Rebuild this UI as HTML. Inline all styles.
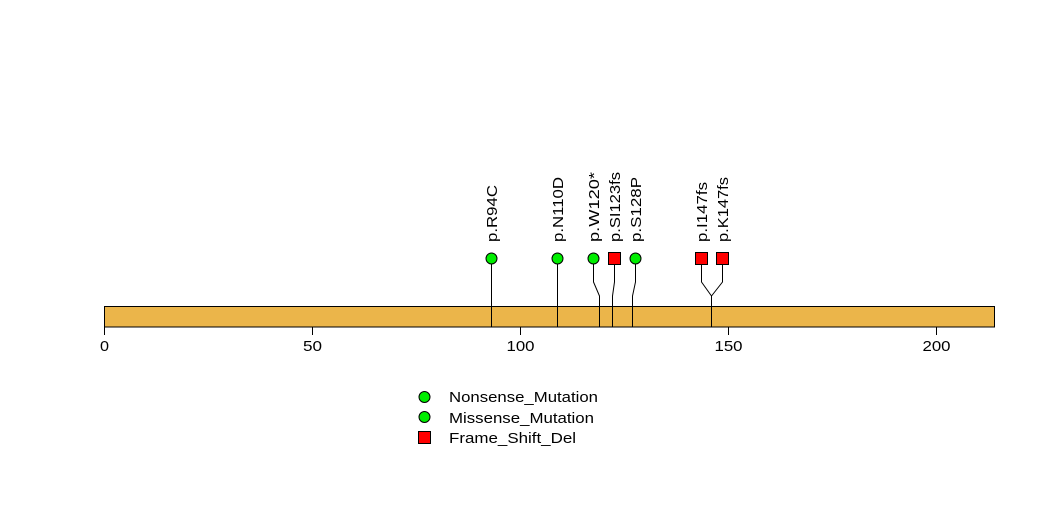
<!DOCTYPE html>
<html><head><meta charset="utf-8"><style>html,body{margin:0;padding:0;background:#fff}svg{display:block}text{font-family:"Liberation Sans",sans-serif;fill:#000}</style></head><body>
<svg width="1047" height="524" viewBox="0 0 1047 524" xmlns="http://www.w3.org/2000/svg">
<rect x="104.5" y="306.5" width="890" height="20.5" fill="#EBB54A" stroke="#000" stroke-width="1"/>
<g stroke="#000" stroke-width="1" fill="none">
<line x1="104.5" y1="327" x2="936.5" y2="327"/>
<line x1="104.5" y1="327" x2="104.5" y2="335"/>
<line x1="312.5" y1="327" x2="312.5" y2="335"/>
<line x1="520.5" y1="327" x2="520.5" y2="335"/>
<line x1="728.5" y1="327" x2="728.5" y2="335"/>
<line x1="936.5" y1="327" x2="936.5" y2="335"/>
<polyline points="491.5,258 491.5,327"/>
<polyline points="557.5,258 557.5,327"/>
<polyline points="593.5,258 593.5,282 599.5,296 599.5,327"/>
<polyline points="614.5,258 614.5,282 612.5,296 612.5,327"/>
<polyline points="635.5,258 635.5,282 632.5,296 632.5,327"/>
<polyline points="701.5,258 701.5,282 711.5,296 711.5,327"/>
<polyline points="722.5,258 722.5,282 711.5,296"/>
</g>
<g font-size="15" text-anchor="middle" lengthAdjust="spacingAndGlyphs">
<text x="104.5" y="351" textLength="9" lengthAdjust="spacingAndGlyphs">0</text>
<text x="312.5" y="351" textLength="19" lengthAdjust="spacingAndGlyphs">50</text>
<text x="520.5" y="351" textLength="28" lengthAdjust="spacingAndGlyphs">100</text>
<text x="728.5" y="351" textLength="28" lengthAdjust="spacingAndGlyphs">150</text>
<text x="936.5" y="351" textLength="28" lengthAdjust="spacingAndGlyphs">200</text>
</g>
<g stroke="#000" stroke-width="1">
<circle cx="491.5" cy="258.5" r="5.5" fill="#00EE00"/>
<circle cx="557.5" cy="258.5" r="5.5" fill="#00EE00"/>
<circle cx="593.5" cy="258.5" r="5.5" fill="#00EE00"/>
<rect x="608.5" y="252.5" width="12" height="12" fill="#FF0000"/>
<circle cx="635.5" cy="258.5" r="5.5" fill="#00EE00"/>
<rect x="695.5" y="252.5" width="12" height="12" fill="#FF0000"/>
<rect x="716.5" y="252.5" width="12" height="12" fill="#FF0000"/>
</g>
<g font-size="15">
<text transform="translate(497,242) rotate(-90)" textLength="57" lengthAdjust="spacingAndGlyphs">p.R94C</text>
<text transform="translate(563,242) rotate(-90)" textLength="65" lengthAdjust="spacingAndGlyphs">p.N110D</text>
<text transform="translate(599,242) rotate(-90)" textLength="70" lengthAdjust="spacingAndGlyphs">p.W120*</text>
<text transform="translate(620,242) rotate(-90)" textLength="70" lengthAdjust="spacingAndGlyphs">p.SI123fs</text>
<text transform="translate(641,242) rotate(-90)" textLength="65" lengthAdjust="spacingAndGlyphs">p.S128P</text>
<text transform="translate(707,242) rotate(-90)" textLength="60" lengthAdjust="spacingAndGlyphs">p.I147fs</text>
<text transform="translate(728,242) rotate(-90)" textLength="65" lengthAdjust="spacingAndGlyphs">p.K147fs</text>
</g>
<g stroke="#000" stroke-width="1">
<circle cx="424.5" cy="397" r="5.5" fill="#00EE00"/>
<circle cx="424.5" cy="417" r="5.5" fill="#00EE00"/>
<rect x="418.5" y="431.5" width="12" height="12" fill="#FF0000"/>
</g>
<g font-size="15">
<text x="449" y="402" textLength="149" lengthAdjust="spacingAndGlyphs">Nonsense_Mutation</text>
<text x="449" y="423" textLength="145" lengthAdjust="spacingAndGlyphs">Missense_Mutation</text>
<text x="449" y="443" textLength="127" lengthAdjust="spacingAndGlyphs">Frame_Shift_Del</text>
</g>
</svg>
</body></html>
